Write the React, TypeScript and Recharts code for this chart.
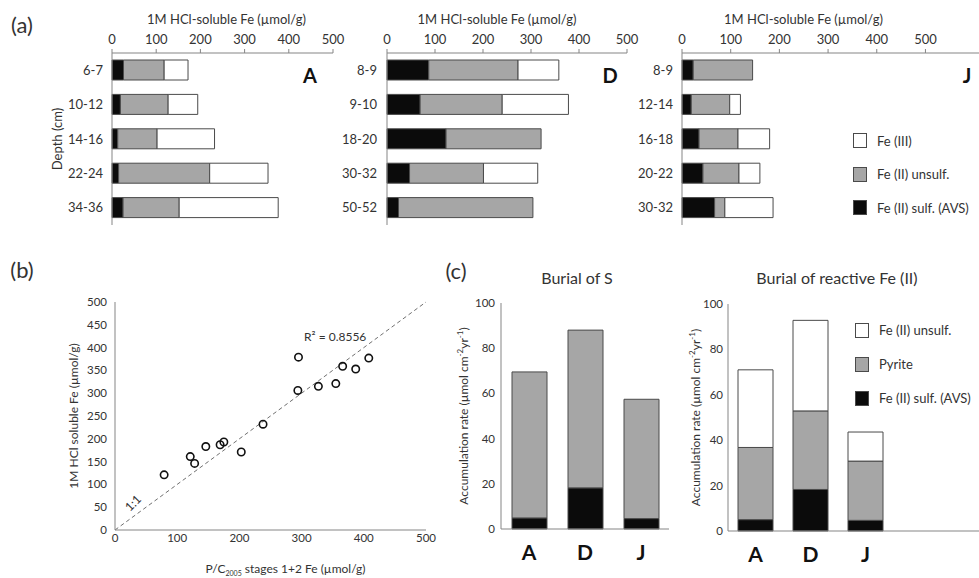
import React from "react";
import {
  Bar,
  BarChart,
  Legend,
  ReferenceDot,
  ReferenceLine,
  Scatter,
  ScatterChart,
  XAxis,
  YAxis,
} from "recharts";

const FONT = "Lato, 'Open Sans', sans-serif";
const INK = "#333";
const EDGE = "#4a4a4a";
const FRAME = "#858585";
const BLACK = "#0b0b0b";
const GREY = "#a6a6a6";
const WHITE = "#ffffff";

// (a) 1M HCl-soluble Fe pools by depth (µmol/g), one set per site
const depthsA = ["6-7", "10-12", "14-16", "22-24", "34-36"];
const avsA = [26, 19, 13, 15, 25];
const unsulfA = [92, 108, 89, 206, 127];
const fe3A = [54, 67, 130, 132, 224];

const depthsD = ["8-9", "9-10", "18-20", "30-32", "50-52"];
const avsD = [87, 69, 123, 47, 24];
const unsulfD = [186, 171, 198, 154, 280];
const fe3D = [85, 138, 0, 113, 0];

const depthsJ = ["8-9", "12-14", "16-18", "20-22", "30-32"];
const avsJ = [23, 19, 35, 43, 67];
const unsulfJ = [122, 79, 80, 74, 21];
const fe3J = [0, 22, 65, 43, 99];

const feTicks = [0, 100, 200, 300, 400, 500];
const legendA = ["Fe (III)", "Fe (II) unsulf.", "Fe (II) sulf. (AVS)"];

// (b) P/C2005 stages 1+2 vs 1M HCl
const pcFe = [79, 121, 128, 146, 169, 175, 203, 238, 294, 295, 327, 355, 366, 387, 408];
const hclFe = [121, 161, 146, 183, 187, 193, 171, 232, 306, 379, 315, 321, 359, 353, 377];
const xTicksB = [0, 100, 200, 300, 400, 500];
const yTicksB = [0, 50, 100, 150, 200, 250, 300, 350, 400, 450, 500];

// (c) accumulation rates (µmol cm-2 yr-1)
const sites = ["A", "D", "J"];
const sAvs = [4.9, 18.2, 4.6];
const sPyrite = [64.6, 69.8, 52.8];
const feAvs = [5, 18.3, 4.7];
const fePyrite = [31.8, 34.6, 26.1];
const feUnsulf = [34.2, 39.9, 12.8];
const rateTicks = [0, 20, 40, 60, 80, 100];
const legendC = ["Fe (II) unsulf.", "Pyrite", "Fe (II) sulf. (AVS)"];

const tickText = { fill: INK, fontSize: 13 };
const smallTick = { fill: INK, fontSize: 11.5 };

function BoxLegend({ payload, gap, order }: any) {
  const items = [...(payload || [])].sort((a: any, b: any) => order.indexOf(a.value) - order.indexOf(b.value));
  return (
    <div style={{ fontFamily: FONT }}>
      {items.map((it: any) => (
        <div key={it.value} style={{ display: "flex", alignItems: "center", height: gap, fontSize: 13, color: INK }}>
          <span style={{ width: 12, height: 13, background: it.color, border: `1px solid ${EDGE}`, marginRight: 10 }} />
          {it.value}
        </div>
      ))}
    </div>
  );
}

function VLabel(props: any) {
  const vb = props.viewBox || {};
  const x = vb.x + props.off;
  const y = vb.y + vb.height / 2;
  return (
    <text x={x} y={y} transform={`rotate(-90 ${x} ${y})`} textAnchor="middle" fill={INK} fontSize={props.size || 12}>
      {props.text}
    </text>
  );
}

function RateLabel(props: any) {
  const vb = props.viewBox || {};
  const x = vb.x + props.off;
  const y = vb.y + vb.height / 2;
  return (
    <text x={x} y={y} transform={`rotate(-90 ${x} ${y})`} textAnchor="middle" fill={INK} fontSize={12}>
      Accumulation rate (µmol cm
      <tspan fontSize={8} dy={-5}>-2</tspan>
      <tspan dy={5}>yr</tspan>
      <tspan fontSize={8} dy={-5}>-1</tspan>
      <tspan dy={5}>)</tspan>
    </text>
  );
}

function PcLabel(props: any) {
  const vb = props.viewBox || {};
  const x = vb.x + vb.width / 2 + 15;
  const y = vb.y + vb.height - 5;
  return (
    <text x={x} y={y} textAnchor="middle" fill={INK} fontSize={12}>
      P/C
      <tspan fontSize={7} dy={3}>2005</tspan>
      <tspan dy={-3}> stages 1+2 Fe (µmol/g)</tspan>
    </text>
  );
}

function Profile(p: any) {
  const data = p.depths.map((d: string, i: number) => ({ depth: d, avs: p.avs[i], unsulf: p.unsulf[i], fe3: p.fe3[i] }));
  return (
    <div style={{ position: "absolute", left: p.left, top: 0 }}>
      <BarChart
        layout="vertical"
        width={p.width}
        height={240}
        data={data}
        margin={{ top: 8, right: p.marginR, bottom: 15, left: p.marginL }}
        barSize={20}
      >
        <XAxis
          xAxisId="t"
          type="number"
          orientation="top"
          domain={[0, p.max]}
          ticks={feTicks}
          height={45}
          axisLine={{ stroke: FRAME }}
          tickLine={{ stroke: FRAME }}
          tickSize={4}
          tickMargin={5}
          tick={tickText}
          label={{ value: "1M HCl-soluble Fe (µmol/g)", position: "insideTop", offset: 7, dx: p.titleDx, fill: INK, fontSize: 13 }}
        />
        <XAxis xAxisId="b" type="number" domain={[0, p.max]} height={0} tick={false} tickLine={false} axisLine={{ stroke: FRAME }} />
        <YAxis
          yAxisId="c"
          type="category"
          dataKey="depth"
          width={p.yW}
          axisLine={{ stroke: FRAME }}
          tickLine={false}
          tickSize={0}
          tickMargin={p.tickGap}
          tick={tickText}
          label={p.depthLabel ? <VLabel off={10} text="Depth (cm)" size={13} /> : undefined}
        />
        {p.frameRight && (
          <YAxis yAxisId="r" type="category" dataKey="depth" orientation="right" width={0} tick={false} tickLine={false} axisLine={{ stroke: FRAME }} />
        )}
        <Bar xAxisId="t" yAxisId="c" dataKey="avs" stackId="s" name="Fe (II) sulf. (AVS)" fill={BLACK} stroke={EDGE} isAnimationActive={false} />
        <Bar xAxisId="t" yAxisId="c" dataKey="unsulf" stackId="s" name="Fe (II) unsulf." fill={GREY} stroke={EDGE} isAnimationActive={false} />
        <Bar xAxisId="t" yAxisId="c" dataKey="fe3" stackId="s" name="Fe (III)" fill={WHITE} stroke={EDGE} isAnimationActive={false} />
        {p.legend && (
          <Legend
            layout="vertical"
            align="center"
            verticalAlign="middle"
            wrapperStyle={{ left: 223, top: 124, width: 130 }}
            content={(lp: any) => <BoxLegend payload={lp.payload} gap={33.5} order={legendA} />}
          />
        )}
      </BarChart>
    </div>
  );
}

function Scatterplot() {
  const pts = pcFe.map((x, i) => ({ x, y: hclFe[i] }));
  return (
    <div style={{ position: "absolute", left: 0, top: 280 }}>
      <ScatterChart width={440} height={298} margin={{ top: 22, right: 14, bottom: 0, left: 55 }}>
        <XAxis
          type="number"
          dataKey="x"
          domain={[0, 500]}
          ticks={xTicksB}
          height={48}
          axisLine={{ stroke: FRAME }}
          tickLine={false}
          tickSize={0}
          tickMargin={4}
          tick={smallTick}
          label={<PcLabel />}
        />
        <YAxis
          type="number"
          dataKey="y"
          domain={[0, 500]}
          ticks={yTicksB}
          interval={0}
          width={60}
          axisLine={{ stroke: FRAME }}
          tickLine={false}
          tickSize={0}
          tickMargin={8}
          tick={smallTick}
          label={<VLabel off={23} text="1M HCl soluble Fe (µmol/g)" />}
        />
        <XAxis xAxisId="top" type="number" orientation="top" domain={[0, 500]} height={0} tick={false} tickLine={false} axisLine={{ stroke: FRAME }} />
        <YAxis yAxisId="right" type="number" orientation="right" domain={[0, 500]} width={0} tick={false} tickLine={false} axisLine={{ stroke: FRAME }} />
        <ReferenceLine segment={[{ x: 0, y: 0 }, { x: 500, y: 500 }]} stroke="#707070" strokeDasharray="4 3" />
        <ReferenceDot x={29} y={59} r={0} label={{ value: "1:1", angle: -45, position: "center", fill: INK, fontSize: 12 }} />
        <ReferenceDot x={354} y={423} r={0} label={{ value: "R² = 0.8556", position: "center", fill: INK, fontSize: 12 }} />
        <Scatter
          data={pts}
          isAnimationActive={false}
          shape={(s: any) => <circle cx={s.cx} cy={s.cy} r={3.7} fill="none" stroke="#111" strokeWidth={1.6} />}
        />
      </ScatterChart>
    </div>
  );
}

function BurialS() {
  const data = sites.map((s, i) => ({ site: s, avs: sAvs[i], pyrite: sPyrite[i] }));
  return (
    <div style={{ position: "absolute", left: 430, top: 280 }}>
      <BarChart width={250} height={298} data={data} margin={{ top: 23, right: 11, bottom: 9, left: 21 }} barSize={35}>
        <XAxis dataKey="site" height={40} axisLine={{ stroke: FRAME }} tickLine={false} tickSize={0} tickMargin={16} tick={{ fill: "#111", fontSize: 21, fontWeight: 700 }} />
        <YAxis
          domain={[0, 100]}
          ticks={rateTicks}
          width={50}
          axisLine={{ stroke: FRAME }}
          tickLine={false}
          tickSize={0}
          tickMargin={6}
          tick={smallTick}
          label={<RateLabel off={17} />}
        />
        <XAxis xAxisId="top" dataKey="site" orientation="top" height={0} tick={false} tickLine={false} axisLine={{ stroke: FRAME }} />
        <YAxis yAxisId="right" orientation="right" domain={[0, 100]} width={0} tick={false} tickLine={false} axisLine={{ stroke: FRAME }} />
        <Bar dataKey="avs" stackId="s" fill={BLACK} stroke={EDGE} isAnimationActive={false} />
        <Bar dataKey="pyrite" stackId="s" fill={GREY} stroke={EDGE} isAnimationActive={false} />
      </BarChart>
    </div>
  );
}

function BurialFe() {
  const data = sites.map((s, i) => ({ site: s, avs: feAvs[i], pyrite: fePyrite[i], unsulf: feUnsulf[i] }));
  return (
    <div style={{ position: "absolute", left: 680, top: 280 }}>
      <BarChart width={299} height={298} data={data} margin={{ top: 24, right: 0, bottom: 7, left: 6 }} barSize={35}>
        <XAxis
          dataKey="site"
          height={40}
          padding={{ left: 0, right: 86 }}
          axisLine={{ stroke: FRAME }}
          tickLine={false}
          tickSize={0}
          tickMargin={16}
          tick={{ fill: "#111", fontSize: 21, fontWeight: 700 }}
        />
        <YAxis
          domain={[0, 100]}
          ticks={rateTicks}
          width={42}
          axisLine={{ stroke: FRAME }}
          tickLine={false}
          tickSize={0}
          tickMargin={5}
          tick={smallTick}
          label={<RateLabel off={14} />}
        />
        <XAxis xAxisId="top" dataKey="site" orientation="top" height={0} tick={false} tickLine={false} axisLine={{ stroke: FRAME }} />
        <Bar dataKey="avs" stackId="s" name="Fe (II) sulf. (AVS)" fill={BLACK} stroke={EDGE} isAnimationActive={false} />
        <Bar dataKey="pyrite" stackId="s" name="Pyrite" fill={GREY} stroke={EDGE} isAnimationActive={false} />
        <Bar dataKey="unsulf" stackId="s" name="Fe (II) unsulf." fill={WHITE} stroke={EDGE} isAnimationActive={false} />
        <Legend
          layout="vertical"
          align="center"
          verticalAlign="middle"
          wrapperStyle={{ left: 175, top: 33, width: 124 }}
          content={(lp: any) => <BoxLegend payload={lp.payload} gap={34} order={legendC} />}
        />
      </BarChart>
    </div>
  );
}

function Tag({ x, y, size, bold, children }: any) {
  return (
    <div
      style={{
        position: "absolute",
        left: x,
        top: y,
        transform: "translate(-50%, -50%)",
        fontSize: size,
        fontWeight: bold ? 700 : 400,
        lineHeight: 1,
        whiteSpace: "nowrap",
        color: bold ? "#111" : INK,
      }}
    >
      {children}
    </div>
  );
}

export default function App() {
  return (
    <div style={{ position: "absolute", left: 0, top: 0, width: 979, height: 578, overflow: "hidden", background: "#fff", fontFamily: FONT }}>
      <Profile left={0} width={352} marginL={52} marginR={19} yW={60} tickGap={9} max={500} titleDx={4} depthLabel frameRight
        depths={depthsA} avs={avsA} unsulf={unsulfA} fe3={fe3A} />
      <Profile left={330} width={310} marginL={7} marginR={13} yW={50} tickGap={10} max={500} titleDx={-10} frameRight
        depths={depthsD} avs={avsD} unsulf={unsulfD} fe3={fe3D} />
      <Profile left={630} width={349} marginL={7} marginR={0} yW={45} tickGap={9} max={610} titleDx={-27} legend
        depths={depthsJ} avs={avsJ} unsulf={unsulfJ} fe3={fe3J} />
      <Scatterplot />
      <BurialS />
      <BurialFe />

      <Tag x={22} y={25} size={22}>(a)</Tag>
      <Tag x={22} y={270} size={22}>(b)</Tag>
      <Tag x={456} y={271} size={22}>(c)</Tag>
      <Tag x={310} y={75} size={20} bold>A</Tag>
      <Tag x={610} y={75} size={20} bold>D</Tag>
      <Tag x={967} y={75} size={20} bold>J</Tag>
      <Tag x={577} y={278} size={16}>Burial of S</Tag>
      <Tag x={837} y={278} size={16}>Burial of reactive Fe (II)</Tag>
    </div>
  );
}
